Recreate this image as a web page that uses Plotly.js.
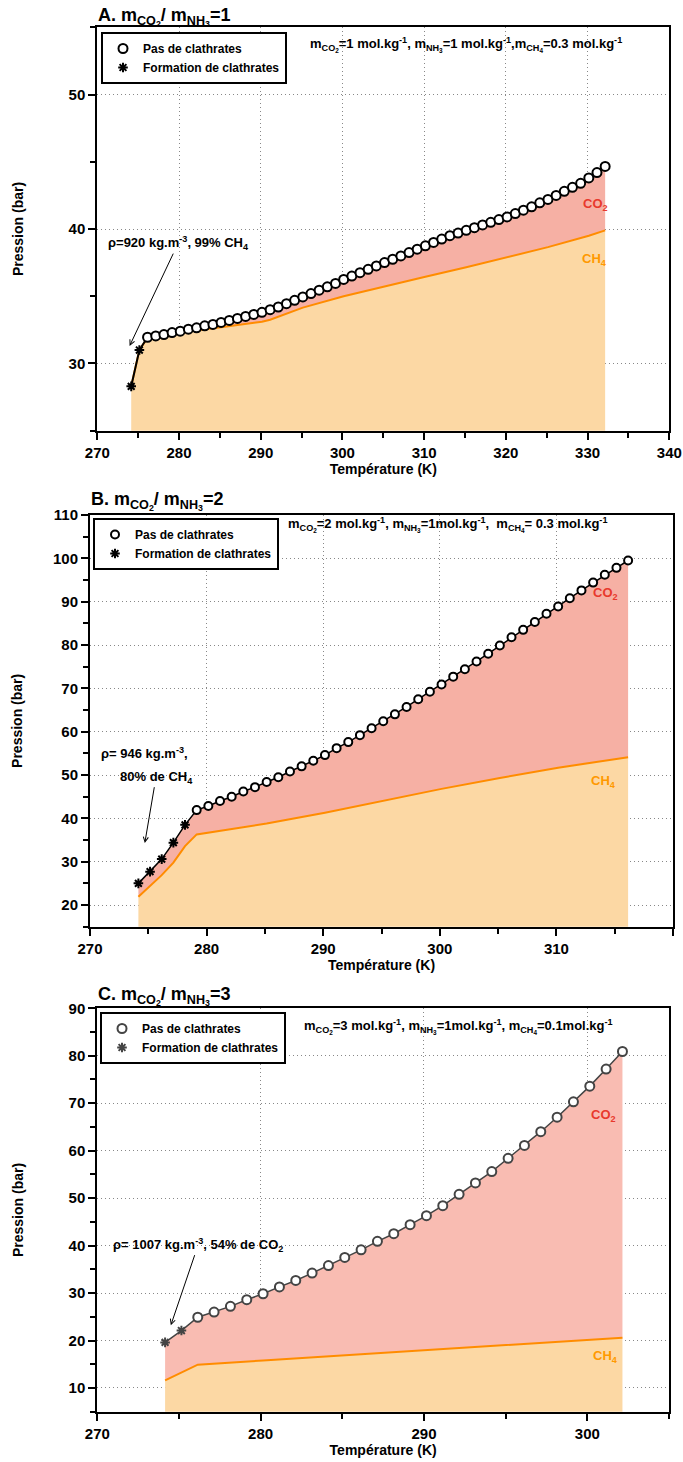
<!DOCTYPE html>
<html>
<head>
<meta charset="utf-8">
<script src="https://cdn.plot.ly/plotly-3.0.1.min.js"></script>
<style>html,body{margin:0;padding:0;background:#fff;} #chart{width:683px;height:1462px;}</style>
</head>
<body>
<div id="chart"></div>
<script>
// ---------- Panel A : mCO2/mNH3 = 1 ----------
const A_starT = [274.15, 275.15];
const A_starP = [28.3, 31.0];
const A_circT = [276.15, 277.15, 278.15, 279.15, 280.15, 281.15, 282.15, 283.15, 284.15, 285.15,
  286.15, 287.15, 288.15, 289.15, 290.15, 291.15, 292.15, 293.15, 294.15, 295.15,
  296.15, 297.15, 298.15, 299.15, 300.15, 301.15, 302.15, 303.15, 304.15, 305.15,
  306.15, 307.15, 308.15, 309.15, 310.15, 311.15, 312.15, 313.15, 314.15, 315.15,
  316.15, 317.15, 318.15, 319.15, 320.15, 321.15, 322.15, 323.15, 324.15, 325.15,
  326.15, 327.15, 328.15, 329.15, 330.15, 331.15, 332.15];
const A_circP = [31.95, 32.05, 32.15, 32.3, 32.4, 32.55, 32.65, 32.8, 32.9, 33.05,
  33.2, 33.35, 33.5, 33.65, 33.8, 34.0, 34.2, 34.45, 34.7, 34.95,
  35.2, 35.45, 35.7, 35.95, 36.25, 36.5, 36.75, 37.0, 37.25, 37.5,
  37.75, 38.0, 38.25, 38.5, 38.75, 39.0, 39.25, 39.5, 39.7, 39.9,
  40.1, 40.3, 40.5, 40.7, 40.9, 41.15, 41.4, 41.65, 41.95, 42.2,
  42.5, 42.8, 43.1, 43.4, 43.8, 44.2, 44.65];
const A_ch4T = [274.15, 275.15, 276.15, 280.15, 285.15, 290.15, 291.15, 295.15, 300.15, 305.15, 310.15, 315.15, 320.15, 325.15, 330.15, 332.15];
const A_ch4P = [28.3, 31.0, 31.9, 32.3, 32.7, 33.1, 33.25, 34.15, 35.0, 35.75, 36.45, 37.15, 37.9, 38.65, 39.5, 39.9];

// ---------- Panel B : mCO2/mNH3 = 2 ----------
const B_starT = [274.15, 275.15, 276.15, 277.15, 278.15];
const B_starP = [25.0, 27.7, 30.6, 34.4, 38.5];
const B_circT = [279.15, 280.15, 281.15, 282.15, 283.15, 284.15, 285.15, 286.15, 287.15, 288.15,
  289.15, 290.15, 291.15, 292.15, 293.15, 294.15, 295.15, 296.15, 297.15, 298.15,
  299.15, 300.15, 301.15, 302.15, 303.15, 304.15, 305.15, 306.15, 307.15, 308.15,
  309.15, 310.15, 311.15, 312.15, 313.15, 314.15, 315.15, 316.15];
const B_circP = [41.9, 42.85, 44.0, 45.0, 46.2, 47.2, 48.4, 49.5, 50.8, 52.0,
  53.3, 54.6, 56.2, 57.6, 59.2, 60.8, 62.4, 64.0, 65.7, 67.5,
  69.2, 70.9, 72.7, 74.4, 76.2, 78.0, 79.9, 81.8, 83.5, 85.3,
  87.2, 88.9, 90.8, 92.6, 94.4, 96.2, 97.8, 99.5];
const B_ch4T = [274.15, 276.15, 277.15, 278.15, 279.15, 285.15, 290.15, 295.15, 300.15, 305.15, 310.15, 316.15];
const B_ch4P = [21.9, 26.9, 29.8, 33.6, 36.3, 38.8, 41.3, 44.0, 46.8, 49.3, 51.7, 54.1];

// ---------- Panel C : mCO2/mNH3 = 3 ----------
const C_starT = [274.15, 275.15];
const C_starP = [19.6, 22.1];
const C_circT = [276.15, 277.15, 278.15, 279.15, 280.15, 281.15, 282.15, 283.15, 284.15, 285.15,
  286.15, 287.15, 288.15, 289.15, 290.15, 291.15, 292.15, 293.15, 294.15, 295.15,
  296.15, 297.15, 298.15, 299.15, 300.15, 301.15, 302.15];
const C_circP = [24.9, 26.0, 27.2, 28.6, 29.85, 31.3, 32.65, 34.2, 35.8, 37.5,
  39.1, 40.9, 42.5, 44.4, 46.3, 48.4, 50.8, 53.2, 55.6, 58.4,
  61.1, 64.0, 67.05, 70.3, 73.6, 77.2, 80.9];
const C_ch4T = [274.15, 276.15, 280.15, 285.15, 290.15, 295.15, 300.15, 302.15];
const C_ch4P = [11.6, 14.9, 15.8, 16.9, 18.0, 19.1, 20.2, 20.6];

const legendNames = ['Pas de clathrates', 'Formation de clathrates'];

// ---------- styling ----------
const FONT = 'Liberation Sans, Arial, Helvetica, sans-serif';
const ORANGE_LINE = '#ff8c00';
const ORANGE_FILL = '#fcd8a4';
const RED_FILL_AB = '#f6b0a4';
const RED_FILL_C = '#f9bcb2';

function panelTraces(xa, ya, leg, starT, starP, circT, circP, ch4T, ch4P, redFill, lineCol, circSize, lineW) {
  const topT = starT.concat(circT);
  const topP = starP.concat(circP);
  return [
    {x: ch4T, y: ch4P, xaxis: xa, yaxis: ya, mode: 'lines', fill: 'tozeroy', fillcolor: ORANGE_FILL,
     line: {color: ORANGE_LINE, width: 2}, showlegend: false, hoverinfo: 'skip'},
    {x: topT, y: topP, xaxis: xa, yaxis: ya, mode: 'lines', fill: 'tonexty', fillcolor: redFill,
     line: {color: lineCol, width: lineW}, showlegend: false, hoverinfo: 'skip'},
    {x: circT, y: circP, xaxis: xa, yaxis: ya, mode: 'markers', name: legendNames[0], legend: leg,
     marker: {symbol: 'circle', size: circSize, color: '#fff', line: {color: lineCol, width: 2}}},
    {x: starT, y: starP, xaxis: xa, yaxis: ya, mode: 'markers', name: legendNames[1], legend: leg,
     marker: {symbol: 'asterisk-open', size: 8, color: lineCol, line: {color: lineCol, width: 2}}}
  ];
}

const data = [].concat(
  panelTraces('x', 'y', 'legend', A_starT, A_starP, A_circT, A_circP, A_ch4T, A_ch4P, RED_FILL_AB, '#000', 9, 2),
  panelTraces('x2', 'y2', 'legend2', B_starT, B_starP, B_circT, B_circP, B_ch4T, B_ch4P, RED_FILL_AB, '#000', 8, 1.5),
  panelTraces('x3', 'y3', 'legend3', C_starT, C_starP, C_circT, C_circP, C_ch4T, C_ch4P, RED_FILL_C, '#444', 9, 1.5)
);

const H = 1462, W = 683;
const py = p => 1 - p / H;
const px = p => p / W;

function xAxis(domain, range, anchor) {
  return {
    domain: domain, range: range, anchor: anchor, tick0: 270, dtick: 10,
    ticks: 'outside', ticklen: 7, tickwidth: 2, tickcolor: '#000',
    showline: true, linewidth: 2, linecolor: '#000', mirror: true,
    showgrid: true, gridcolor: '#888', griddash: '1px,3px', gridwidth: 1, zeroline: false,
    minor: {dtick: 5, ticks: 'outside', ticklen: 5, tickwidth: 2, tickcolor: '#000', showgrid: false},
    tickfont: {family: FONT, size: 15, color: '#000', weight: 'bold'},
    title: {text: 'Température (K)', font: {family: FONT, size: 14, color: '#000', weight: 'bold'}, standoff: 2},
    automargin: false, fixedrange: true
  };
}
function yAxis(domain, range, anchor, dtick, standoff) {
  return {
    domain: domain, range: range, anchor: anchor, dtick: dtick,
    ticks: 'outside', ticklen: 7, tickwidth: 2, tickcolor: '#000',
    showline: true, linewidth: 2, linecolor: '#000', mirror: true,
    showgrid: true, gridcolor: '#888', griddash: '1px,3px', gridwidth: 1, zeroline: false,
    minor: {dtick: dtick / 2, ticks: 'outside', ticklen: 5, tickwidth: 2, tickcolor: '#000', showgrid: false},
    tickfont: {family: FONT, size: 15, color: '#000', weight: 'bold'},
    title: {text: 'Pression (bar)', font: {family: FONT, size: 14, color: '#000', weight: 'bold'}, standoff: standoff},
    automargin: false, fixedrange: true
  };
}
function legendBox(x, y) {
  return {x: x, y: y, xanchor: 'left', yanchor: 'top', bgcolor: '#fff', bordercolor: '#000', borderwidth: 2,
    traceorder: 'normal', font: {family: FONT, size: 12, color: '#000', weight: 'bold'}, itemwidth: 30, tracegroupgap: 0};
}

const annFont = (size, color) => ({family: FONT, size: size, color: color || '#000', weight: 'bold'});

const annotations = [
  // panel titles
  {xref: 'paper', yref: 'paper', x: px(96), y: py(3), xanchor: 'left', yanchor: 'top', showarrow: false,
   text: 'A. m<sub>CO<sub>2</sub></sub>/ m<sub>NH<sub>3</sub></sub>=1', font: annFont(18)},
  {xref: 'paper', yref: 'paper', x: px(89), y: py(487), xanchor: 'left', yanchor: 'top', showarrow: false,
   text: 'B. m<sub>CO<sub>2</sub></sub>/ m<sub>NH<sub>3</sub></sub>=2', font: annFont(18)},
  {xref: 'paper', yref: 'paper', x: px(96), y: py(982), xanchor: 'left', yanchor: 'top', showarrow: false,
   text: 'C. m<sub>CO<sub>2</sub></sub>/ m<sub>NH<sub>3</sub></sub>=3', font: annFont(18)},
  // concentration info
  {xref: 'paper', yref: 'paper', x: px(466), y: py(44), xanchor: 'center', yanchor: 'middle', showarrow: false,
   text: 'm<sub>CO<sub>2</sub></sub>=1 mol.kg<sup>-1</sup>, m<sub>NH<sub>3</sub></sub>=1 mol.kg<sup>-1</sup>,m<sub>CH<sub>4</sub></sub>=0.3 mol.kg<sup>-1</sup>',
   font: annFont(13)},
  {xref: 'paper', yref: 'paper', x: px(447), y: py(525), xanchor: 'center', yanchor: 'middle', showarrow: false,
   text: 'm<sub>CO<sub>2</sub></sub>=2 mol.kg<sup>-1</sup>, m<sub>NH<sub>3</sub></sub>=1mol.kg<sup>-1</sup>,  m<sub>CH<sub>4</sub></sub>= 0.3 mol.kg<sup>-1</sup>',
   font: annFont(13)},
  {xref: 'paper', yref: 'paper', x: px(458), y: py(1026), xanchor: 'center', yanchor: 'middle', showarrow: false,
   text: 'm<sub>CO<sub>2</sub></sub>=3 mol.kg<sup>-1</sup>, m<sub>NH<sub>3</sub></sub>=1mol.kg<sup>-1</sup>, m<sub>CH<sub>4</sub></sub>=0.1mol.kg<sup>-1</sup>',
   font: annFont(13)},
  // arrows
  {xref: 'x', yref: 'y', x: 273.95, y: 31.3, axref: 'x', ayref: 'y', ax: 279.9, ay: 38.95,
   text: 'ρ=920 kg.m<sup>-3</sup>, 99% CH<sub>4</sub>', showarrow: true, arrowhead: 5, arrowsize: 1, arrowwidth: 1,
   arrowcolor: '#000', font: annFont(13)},
  {xref: 'x2', yref: 'y2', x: 274.71, y: 55.1, showarrow: false,
   text: 'ρ= 946 kg.m<sup>-3</sup>,', font: annFont(13)},
  {xref: 'x2', yref: 'y2', x: 274.7, y: 34.3, axref: 'x2', ayref: 'y2', ax: 275.66, ay: 49.5,
   text: '80% de CH<sub>4</sub>', showarrow: true, arrowhead: 5, arrowsize: 1, arrowwidth: 1,
   arrowcolor: '#000', font: annFont(13)},
  {xref: 'x3', yref: 'y3', x: 274.5, y: 23.2, axref: 'x3', ayref: 'y3', ax: 276.18, ay: 40.2,
   text: 'ρ= 1007 kg.m<sup>-3</sup>, 54% de CO<sub>2</sub>', showarrow: true, arrowhead: 5, arrowsize: 1, arrowwidth: 1,
   arrowcolor: '#000', font: annFont(13)},
  // species labels
  {xref: 'x', yref: 'y', x: 331.0, y: 41.8, showarrow: false, text: 'CO<sub>2</sub>', font: annFont(13, '#e8392d')},
  {xref: 'x', yref: 'y', x: 330.9, y: 37.7, showarrow: false, text: 'CH<sub>4</sub>', font: annFont(13, '#ff9900')},
  {xref: 'x2', yref: 'y2', x: 314.2, y: 91.8, showarrow: false, text: 'CO<sub>2</sub>', font: annFont(13, '#e8392d')},
  {xref: 'x2', yref: 'y2', x: 314.0, y: 48.4, showarrow: false, text: 'CH<sub>4</sub>', font: annFont(13, '#ff9900')},
  {xref: 'x3', yref: 'y3', x: 301.0, y: 67.5, showarrow: false, text: 'CO<sub>2</sub>', font: annFont(13, '#e8392d')},
  {xref: 'x3', yref: 'y3', x: 301.1, y: 16.6, showarrow: false, text: 'CH<sub>4</sub>', font: annFont(13, '#ff9900')}
];

const layout = {
  width: W, height: H,
  margin: {l: 0, r: 0, t: 0, b: 0},
  paper_bgcolor: '#fff', plot_bgcolor: '#fff',
  font: {family: FONT, size: 13, color: '#000', weight: 'bold'},
  xaxis: xAxis([px(97.3), px(669.3)], [270, 340], 'y'),
  yaxis: yAxis([py(430.7), py(27.3)], [25, 55], 'x', 10, 42),
  xaxis2: xAxis([px(90), px(673)], [270, 320], 'y2'),
  yaxis2: yAxis([py(926.7), py(515)], [15, 110], 'x2', 10, 27),
  xaxis3: xAxis([px(97.3), px(669)], [270, 305], 'y3'),
  yaxis3: yAxis([py(1411.7), py(1008.3)], [5, 90], 'x3', 10, 42),
  legend: legendBox(px(101), py(32)),
  legend2: legendBox(px(93), py(518)),
  legend3: legendBox(px(100), py(1012)),
  annotations: annotations,
  showlegend: true,
  hovermode: false
};

Plotly.newPlot('chart', data, layout, {displayModeBar: false, staticPlot: true});
</script>
</body>
</html>
